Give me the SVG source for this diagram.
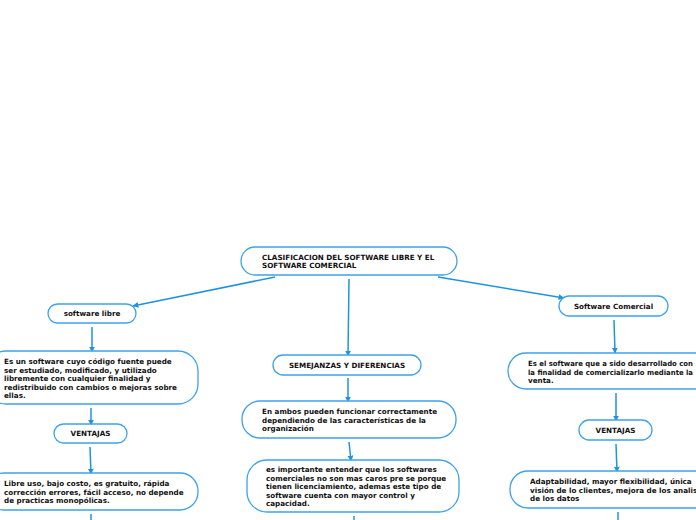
<svg xmlns="http://www.w3.org/2000/svg" width="696" height="520" viewBox="0 0 696 520">
<defs>
<style>
.n{fill:#fff;stroke:#3ea2e8;stroke-width:1.3}
.t{font-family:"DejaVu Sans",Verdana,sans-serif;font-weight:bold;font-size:7.2px;fill:#111}
.c{text-anchor:middle}
.e{stroke:#1f93e0;stroke-width:1.5;fill:none}
</style>
<marker id="a" viewBox="0 0 10 10" refX="9" refY="5" markerWidth="6" markerHeight="6" orient="auto" markerUnits="userSpaceOnUse">
<path d="M0,0L10,5L0,10z" fill="#1f93e0"/>
</marker>
</defs>
<rect width="696" height="520" fill="#fff"/>
<g id="connectors">
<path class="e" d="M275,277L133,306" marker-end="url(#a)"/>
<path class="e" d="M349,279L348,356" marker-end="url(#a)"/>
<path class="e" d="M438,277L564,298" marker-end="url(#a)"/>
<path class="e" d="M92,327L92,352" marker-end="url(#a)"/>
<path class="e" d="M91,408L91,425" marker-end="url(#a)"/>
<path class="e" d="M90,447L91,474" marker-end="url(#a)"/>
<path class="e" d="M91,514L91,520"/>
<path class="e" d="M348,378L348,402" marker-end="url(#a)"/>
<path class="e" d="M349,442L351,461" marker-end="url(#a)"/>
<path class="e" d="M354,516L354,520"/>
<path class="e" d="M614,320L615,353" marker-end="url(#a)"/>
<path class="e" d="M616,393L616,421" marker-end="url(#a)"/>
<path class="e" d="M616,444L617,472" marker-end="url(#a)"/>
<path class="e" d="M618,512L618,520"/>
</g>
<g id="root">
<rect class="n" x="241" y="247" width="216" height="28" rx="14"/>
<text class="t" x="262" y="260">CLASIFICACION DEL SOFTWARE LIBRE Y EL</text>
<text class="t" x="262" y="268">SOFTWARE COMERCIAL</text>
</g>
<g id="libre">
<rect class="n" x="48" y="304" width="88" height="19" rx="9.5"/>
<text class="t c" x="92" y="316">software libre</text>
</g>
<g id="libre-def">
<rect class="n" x="-14" y="351" width="212" height="53" rx="20"/>
<text class="t" x="4" y="364">Es un software cuyo código fuente puede</text>
<text class="t" x="4" y="372.5">ser estudiado, modificado, y utilizado</text>
<text class="t" x="4" y="381">libremente con cualquier finalidad y</text>
<text class="t" x="4" y="389.5">redistribuido con cambios o mejoras sobre</text>
<text class="t" x="4" y="398">ellas.</text>
</g>
<g id="libre-ventajas">
<rect class="n" x="54" y="424" width="73" height="19" rx="9.5"/>
<text class="t c" x="90.5" y="436">VENTAJAS</text>
</g>
<g id="libre-ventajas-text">
<rect class="n" x="-14" y="473" width="212" height="37" rx="18"/>
<text class="t" x="4" y="486">Libre uso, bajo costo, es gratuito, rápida</text>
<text class="t" x="4" y="494.5">corrección errores, fácil acceso, no depende</text>
<text class="t" x="4" y="503">de practicas monopólicas.</text>
</g>
<g id="semejanzas">
<rect class="n" x="273" y="355" width="148" height="20" rx="10"/>
<text class="t c" x="347" y="368">SEMEJANZAS Y DIFERENCIAS</text>
</g>
<g id="semejanzas-1">
<rect class="n" x="242" y="401" width="214" height="37" rx="18"/>
<text class="t" x="262" y="414">En ambos pueden funcionar correctamente</text>
<text class="t" x="262" y="422.5">dependiendo de las características de la</text>
<text class="t" x="262" y="431">organización</text>
</g>
<g id="semejanzas-2">
<rect class="n" x="247" y="460" width="212" height="52" rx="20"/>
<text class="t" x="266" y="472">es importante entender que los softwares</text>
<text class="t" x="266" y="480.5">comerciales no son mas caros pre se porque</text>
<text class="t" x="266" y="489">tienen licenciamiento, ademas  este tipo de</text>
<text class="t" x="266" y="497.5">software cuenta con mayor control  y</text>
<text class="t" x="266" y="506">capacidad.</text>
</g>
<g id="comercial">
<rect class="n" x="559" y="296" width="109" height="20" rx="10"/>
<text class="t c" x="613.5" y="309">Software Comercial</text>
</g>
<g id="comercial-def">
<rect class="n" x="508" y="353" width="206" height="36" rx="18"/>
<text class="t" x="528" y="366" textLength="165" lengthAdjust="spacingAndGlyphs">Es el software que a sido desarrollado con</text>
<text class="t" x="528" y="374.5" textLength="165" lengthAdjust="spacingAndGlyphs">la finalidad de comercializarlo mediante la</text>
<text class="t" x="528" y="383">venta.</text>
</g>
<g id="comercial-ventajas">
<rect class="n" x="579" y="420" width="73" height="20" rx="10"/>
<text class="t c" x="615.5" y="433">VENTAJAS</text>
</g>
<g id="comercial-ventajas-text">
<rect class="n" x="510" y="471" width="204" height="37" rx="18"/>
<text class="t" x="530" y="484">Adaptabilidad, mayor flexibilidad, única</text>
<text class="t" x="530" y="492.5">visión de lo clientes, mejora de los analisis</text>
<text class="t" x="530" y="501">de los datos</text>
</g>
</svg>
